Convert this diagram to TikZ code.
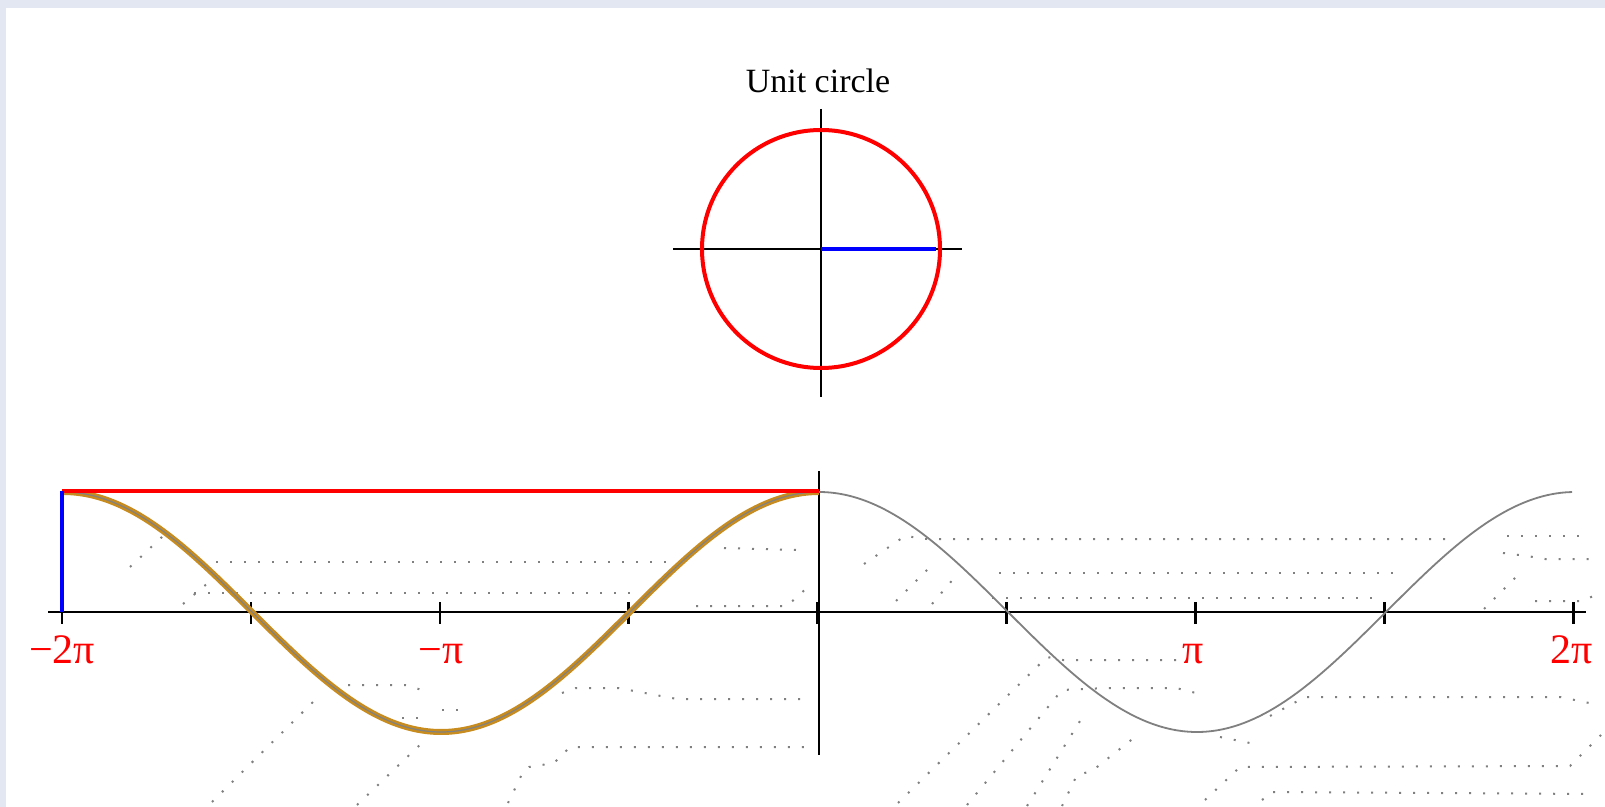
\documentclass[tikz,border=0pt]{standalone}
\usepackage{fontspec}
\setmainfont{Liberation Serif}
\usetikzlibrary{positioning}
\definecolor{gold}{RGB}{200,140,30}
\definecolor{frame}{RGB}{226,231,241}

\begin{document}
\begin{tikzpicture}[x=0.5pt, y=-0.5pt,
  axis/.style={draw=black, line width=1.3pt},
  trace/.style={draw=gray, line width=1pt, dash pattern=on 1pt off 6pt},
  pilbl/.style={text=red, font=\fontsize{21}{21}\selectfont, anchor=base},
  ttl/.style={font=\fontsize{17}{17}\selectfont, anchor=base}]
  \useasboundingbox (0,0) rectangle (1605,807);
  \fill[frame] (0,0) rectangle (1605,807);
  \fill[white] (6,8) rectangle (1605,807);
  \coordinate (O) at (819,612);
  \coordinate (C) at (821,249);
  % leftover traces
  \draw[trace] (130,567) -- (163,536);
  \draw[trace] (202,562) -- (670,562);
  \draw[trace] (194,593) -- (630,593);
  \draw[trace] (183,604) -- (215,577);
  \draw[trace] (724,548) -- (798,550);
  \draw[trace] (696,606) -- (787,606) -- (809,586);
  \draw[trace] (212,802) -- (318,697);
  \draw[trace] (357,805) -- (425,740);
  \draw[trace] (348,685) -- (405,685) -- (422,690);
  \draw[trace] (402,718) -- (430,718);
  \draw[trace] (442,710) -- (458,710);
  \draw[trace] (508,803) -- (523,772) -- (529,767) -- (554,763) -- (570,747) -- (806,747);
  \draw[trace] (562,693) -- (576,688) -- (618,688) -- (677,699) -- (803,699);
  \draw[trace] (864,564) -- (905,536) -- (927,539) -- (1448,539);
  \draw[trace] (896,601) -- (932,565);
  \draw[trace] (999,573) -- (1403,573);
  \draw[trace] (932,604) -- (955,577);
  \draw[trace] (992,598) -- (1383,598);
  \draw[trace] (1507,536) -- (1590,536);
  \draw[trace] (1503,553) -- (1527,556) -- (1545,559) -- (1597,559);
  \draw[trace] (1484,609) -- (1517,576);
  \draw[trace] (1535,601) -- (1583,601) -- (1599,593);
  \draw[trace] (898,803) -- (1047,657) -- (1063,660) -- (1182,660);
  \draw[trace] (967,805) -- (1062,690) -- (1107,688) -- (1176,688) -- (1196,693);
  \draw[trace] (1027,806) -- (1085,713);
  \draw[trace] (1062,806) -- (1077,775) -- (1092,771) -- (1140,733);
  \draw[trace] (1220,737) -- (1255,744);
  \draw[trace] (1270,716) -- (1305,697) -- (1560,697) -- (1599,705);
  \draw[trace] (1205,800) -- (1240,767) -- (1570,766) -- (1603,733);
  \draw[trace] (1262,800) -- (1272,792) -- (1595,794);
  % unit circle
  \node[ttl] (title) at (818,93) {Unit circle};
  \draw[axis, line width=1pt] (C) ++(-148,0) -- ++(289,0);
  \draw[axis, line width=1pt] (C) ++(0,-140) -- ++(0,288);
  \draw[red, line width=2pt] (C) circle[radius=119];
  \draw[blue, line width=1.7pt] (C) -- ++(115,0);
  % graph
  \draw[axis] (48,612) -- (1586,612);
  \draw[axis] (819,471) -- (819,755);
  \foreach \k in {0,...,8}
    \draw[axis] ({62+188.9*\k},602) -- ({62+188.9*\k},624);
  \draw[gray, line width=0.9pt] plot[domain=819:1572, samples=150, smooth]
    (\x, {612-120*cos(deg((\x-819)/120.3))});
  \draw[gold, line width=3pt] plot[domain=62:819, samples=150, smooth]
    (\x, {612-120*cos(deg((\x-819)/120.3))});
  \draw[gray, line width=0.6pt] plot[domain=62:819, samples=150, smooth]
    (\x, {612-120*cos(deg((\x-819)/120.3))});
  \draw[red, line width=2pt] (62,491) -- (O |- 0,491);
  \draw[blue, line width=1.7pt] (62,491) -- (62,612);
  \node[pilbl] (m2pi) at (62,663) {−2π};
  \node[pilbl] (mpi) at (441,663) {−π};
  \node[pilbl] (ppi) at (1193,663) {π};
  \node[pilbl] (p2pi) at (1572,663) {2π};
\end{tikzpicture}
\end{document}
